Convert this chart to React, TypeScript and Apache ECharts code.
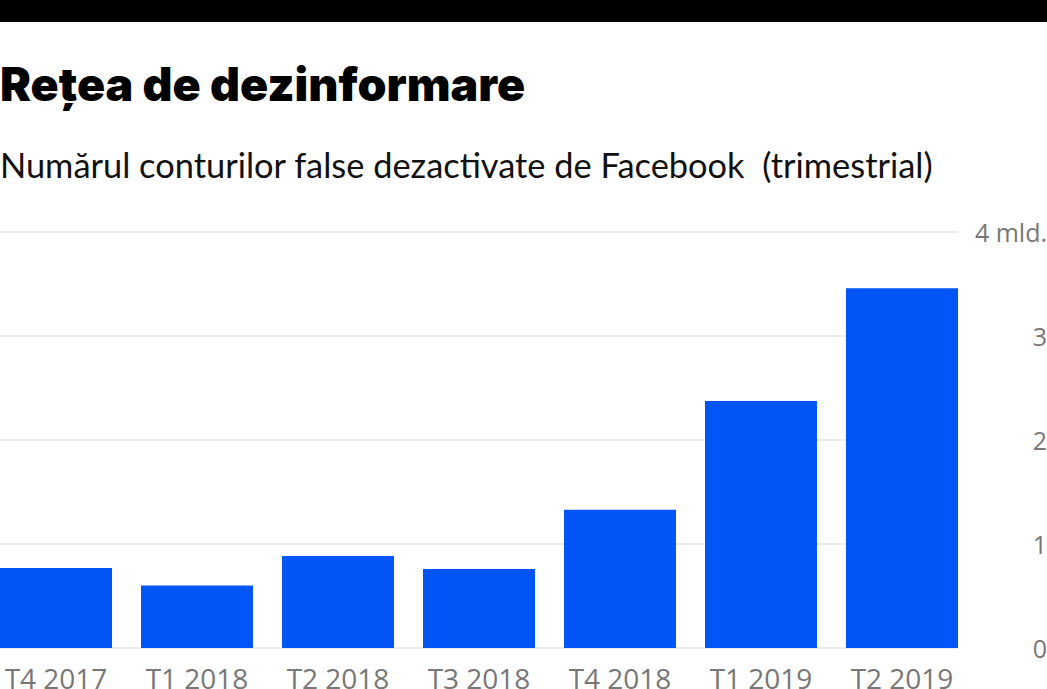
import React, { useEffect, useRef } from "react";
import * as echarts from "echarts";

const categories = ["T4 2017", "T1 2018", "T2 2018", "T3 2018", "T4 2018", "T1 2019", "T2 2019"];
const values = [0.77, 0.6, 0.885, 0.76, 1.33, 2.375, 3.46];
const yTicks = [0, 1, 2, 3, 4];
const titleText = "Rețea de dezinformare";
const subtitleText = "Numărul conturilor false dezactivate de Facebook  (trimestrial)";
const topUnit = "mld.";

const OFF = 15;

export default function App() {
  const ref = useRef<HTMLDivElement>(null);
  useEffect(() => {
    document.body.style.margin = "0";
    document.body.style.overflow = "hidden";
    const chart = echarts.init(ref.current!, null, { renderer: "svg" });
    const yMax = yTicks[yTicks.length - 1];
    chart.setOption({
      animation: false,
      backgroundColor: "#ffffff",
      grid: [
        { left: 0.5, right: 74.5, top: 232, bottom: 41, outerBoundsMode: "none", containLabel: false },
        { left: OFF, right: 89, top: 232, bottom: 41, outerBoundsMode: "none", containLabel: false },
      ],
      xAxis: [
        {
          type: "category",
          gridIndex: 0,
          data: categories,
          axisLine: { show: false },
          axisTick: { show: false },
          axisLabel: { color: "#777777", fontSize: 28, fontFamily: "Open Sans", margin: 16 },
        },
        { type: "value", gridIndex: 1, show: false },
      ],
      yAxis: [
        { type: "value", gridIndex: 0, min: 0, max: yMax, show: false },
        {
          type: "value",
          gridIndex: 1,
          position: "right",
          min: 0,
          max: yMax,
          interval: 1,
          axisLine: { show: false },
          axisTick: { show: false },
          splitLine: { lineStyle: { color: "#ebebeb", width: 2 } },
          axisLabel: {
            color: "#777777",
            fontSize: 25,
            fontFamily: "Open Sans",
            align: "right",
            margin: 89,
            formatter: (v: number) => (v === yMax ? `${v} ${topUnit}` : String(v)),
          },
        },
      ],
      series: [
        {
          type: "bar",
          xAxisIndex: 0,
          yAxisIndex: 0,
          data: values,
          barWidth: 112,
          itemStyle: { color: "#0055f4" },
        },
      ],
      graphic: [
        { type: "rect", shape: { x: 0, y: 0, width: 1047 + OFF, height: 22 }, style: { fill: "#000000" } },
        {
          type: "text",
          x: OFF,
          y: 84,
          style: {
            text: titleText,
            fill: "#000000",
            font: "900 46.5px Inter",
            verticalAlign: "middle",
            align: "left",
          },
        },
        {
          type: "text",
          x: OFF,
          y: 164,
          style: {
            text: subtitleText,
            fill: "#111111",
            font: "400 34.4px Lato",
            verticalAlign: "middle",
            align: "left",
          },
        },
      ],
    });
    return () => chart.dispose();
  }, []);
  return <div ref={ref} style={{ width: 1047 + OFF, height: 689, marginLeft: -OFF }} />;
}
